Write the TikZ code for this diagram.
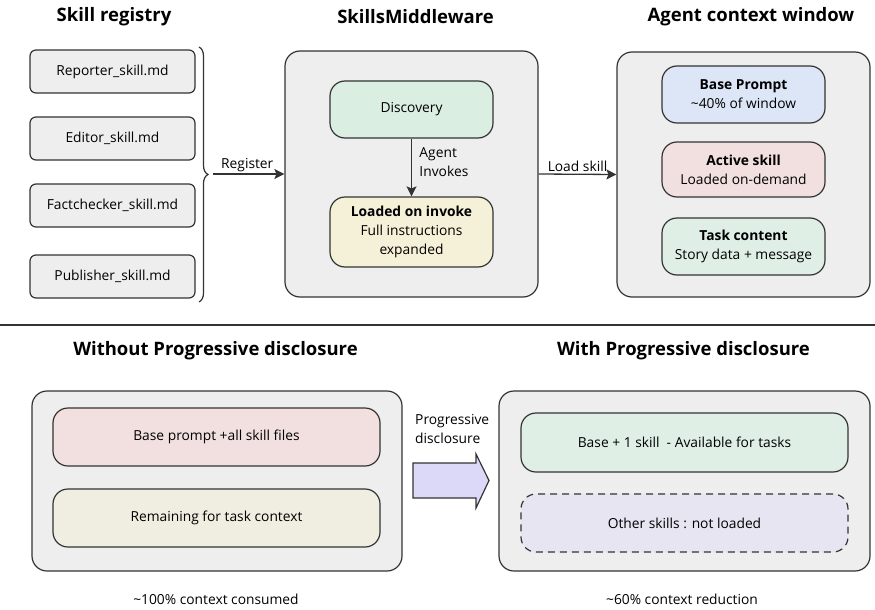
\documentclass[tikz,border=0pt]{standalone}
\usepackage{fontspec}
\setmainfont{Open Sans}
\usepackage{tikz}
\usetikzlibrary{calc,shapes,positioning}
\usetikzlibrary{decorations.pathreplacing}
\usetikzlibrary{arrows.meta}
\tikzset{>={Stealth[length=10pt,width=10pt,inset=2pt]}}

\definecolor{boxgray}{HTML}{EEEEEE}
\definecolor{linedark}{HTML}{333333}
\definecolor{discgreen}{HTML}{DAEEE2}
\definecolor{taskgreen}{HTML}{E0EFE5}
\definecolor{loadcream}{HTML}{F5F0D8}
\definecolor{restcream}{HTML}{F0EEE0}
\definecolor{baseblue}{HTML}{DDE6F6}
\definecolor{skillpink}{HTML}{F2E0E0}
\definecolor{arrowlav}{HTML}{DCD9F8}
\definecolor{otherlav}{HTML}{E8E5F2}

\begin{document}
\begin{tikzpicture}[x=1pt,y=-1pt]
      \useasboundingbox (0,0) rectangle (875,610);
      \begin{scope}[font=\fontsize{13.8}{19}\selectfont]
        \tikzstyle{title} = [font=\fontsize{18.5}{22}\selectfont\bfseries]
        \tikzstyle{regnode} = [draw=linedark, fill=boxgray, line width=1.2pt, rounded corners=6pt, minimum width=165pt, minimum height=43pt, inner sep=0pt]
        \tikzstyle{panel} = [draw=linedark, fill=boxgray, line width=1.2pt, rounded corners=15pt, inner sep=0pt]
        \tikzstyle{inode} = [draw=linedark, line width=1.2pt, rounded corners=15pt, minimum width=163pt, inner sep=0pt, align=center]
        \tikzstyle{wnode} = [draw=linedark, line width=1.2pt, rounded corners=15pt, minimum width=327pt, minimum height=58pt, inner sep=0pt]
        \tikzstyle{conn} = [->, draw=linedark, line width=1.3pt]

        % headings
        \node[title] (t1) at (114,17) {Skill registry};
        \node[title] (t2) at (415.5,17) {SkillsMiddleware};
        \node[title] (t3) at (751,17) {Agent context window};

        % skill registry
        \node[regnode] (r1) at (112.5,71.5) {Reporter\_skill.md};
        \node[regnode] (r2) at (112.5,138.5) {Editor\_skill.md};
        \node[regnode] (r3) at (112.5,205.5) {Factchecker\_skill.md};
        \node[regnode] (r4) at (112.5,276.5) {Publisher\_skill.md};
        \draw[linedark, line width=1.2pt, decorate, decoration={brace, amplitude=9pt}]
        (199,47) -- (199,302);
        \coordinate (brtip) at (213,174);

        % middleware
        \node[panel, minimum width=253pt, minimum height=246pt] (mw) at (411.5,174) {};
        \node[inode, fill=discgreen, minimum height=57pt] (disc) at (411.5,109.5) {Discovery};
        \node[inode, fill=loadcream, minimum height=70pt] (load) at (411.5,232)
        {\textbf{Loaded on invoke}\\Full instructions\\expanded};

        % context window
        \node[panel, minimum width=253pt, minimum height=245pt] (ctx) at (743.5,174.5) {};
        \node[inode, fill=baseblue, minimum height=57pt] (base) at (743.5,94.5)
        {\textbf{Base Prompt}\\\textasciitilde40\% of window};
        \node[inode, fill=skillpink, minimum height=55pt] (act) at (743.5,169.5)
        {\textbf{Active skill}\\Loaded on-demand};
        \node[inode, fill=taskgreen, minimum height=57pt] (task) at (743.5,246.5)
        {\textbf{Task content}\\Story data + message};

        \draw[conn] (brtip) -- node[above, inner sep=2pt, pos=0.48] {Register} (mw.west);
        \draw[conn] (disc) -- node[right, align=left, xshift=4pt, pos=0.4] {Agent\\Invokes} (load);
        \draw[conn] (mw.east) -- node[above, inner sep=2pt, pos=0.5] {Load skill} (ctx.west);

        % divider
        \coordinate (dl) at (0,325);
        \coordinate (dr) at (875,325);
        \draw[linedark, line width=1.2pt] (dl) -- (dr);

        % lower half
        \node[title] (t4) at (215.5,351) {Without Progressive disclosure};
        \node[title] (t5) at (683.5,351) {With Progressive disclosure};

        \node[panel, minimum width=370pt, minimum height=180pt] (wo) at (217,481) {};
        \node[wnode, fill=skillpink] (allf) at (216.5,437) {Base prompt +all skill files};
        \node[wnode, fill=restcream] (rest) at (216.5,518) {Remaining for task context};
        \node (cons) at (216,599) {\textasciitilde100\% context consumed};

        \node[align=left, anchor=west, inner sep=0pt] (pdtext) at (415,429) {Progressive\\disclosure};
        \draw[linedark, fill=arrowlav, line width=1.2pt]
        (413,463) -- (476,463) -- (476,454) -- (489,480.5) -- (476,508)
        -- (476,498) -- (413,498) -- cycle;

        \node[panel, minimum width=371pt, minimum height=180pt] (wi) at (684.5,481) {};
        \node[wnode, fill=taskgreen, minimum height=59pt] (one) at (684.5,442.5) {Base + 1 skill\ \ - Available for tasks};
        \node[wnode, fill=otherlav, dash pattern=on 7pt off 5pt] (other) at (684.5,523) {Other skills : not loaded};
        \node (red) at (682,599) {\textasciitilde60\% context reduction};
      \end{scope}
    \end{tikzpicture}
\end{document}
